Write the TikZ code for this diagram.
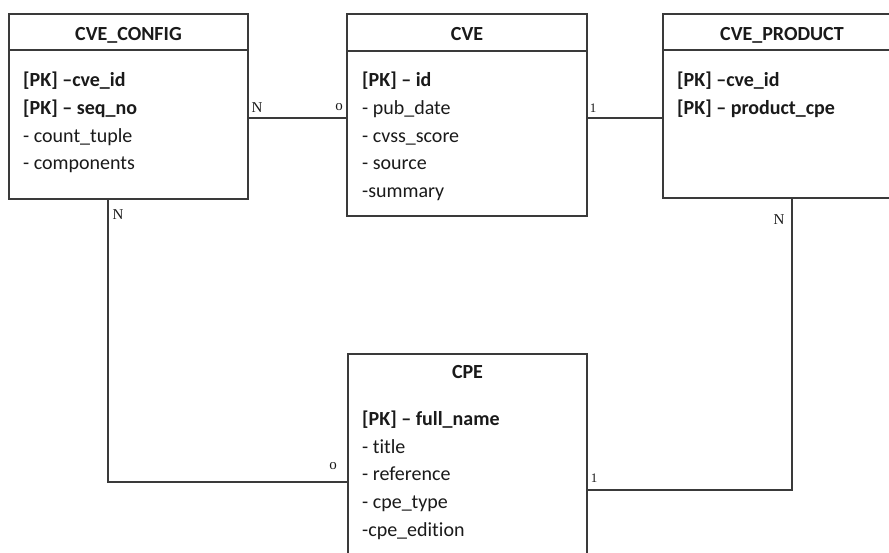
\documentclass[tikz,border=0pt]{standalone}
\usepackage{fontspec}
\setmainfont{Carlito}[Ligatures=NoCommon]
\newfontfamily\lblfont{Liberation Serif}
\definecolor{ln}{HTML}{3A3A3A}
\definecolor{tx}{HTML}{1A1A1A}
\tikzset{
  ebox/.style={draw=ln, line width=1.3pt, rectangle, inner sep=0pt, outer sep=0pt, anchor=north west, fill=white},
  hline/.style={draw=ln, line width=1.3pt},
  conn/.style={draw=ln, line width=1.3pt},
  ttl/.style={anchor=base, inner sep=0pt, text=tx, font=\fontsize{20}{24}\selectfont\bfseries},
  attr/.style={anchor=base west, inner sep=0pt, text=tx, font=\fontsize{20}{24}\selectfont},
  card/.style={inner sep=0pt, text=tx, font=\lblfont\fontsize{15}{16}\selectfont},
  cardsm/.style={inner sep=0pt, text=tx, font=\lblfont\fontsize{13}{14}\selectfont}
}
\begin{document}
\begin{tikzpicture}[x=1pt,y=-1pt]
\useasboundingbox (0,0) rectangle (889,552);
\clip (0,0) rectangle (889,552);
\fill[white] (0,0) rectangle (889,552);

% entity boxes
\node[ebox, minimum width=239pt, minimum height=185pt] (cfg) at (9,14) {};
\node[ebox, minimum width=240pt, minimum height=202pt] (cve) at (347,14) {};
\node[ebox, minimum width=238pt, minimum height=184pt] (prod) at (663,14) {};
\node[ebox, minimum width=239pt, minimum height=216pt] (cpe) at (348,354) {};

% header separators
\draw[hline] (cfg.west |- 0,50) -- (cfg.east |- 0,50);
\draw[hline] (cve.west |- 0,51) -- (cve.east |- 0,51);
\draw[hline] (prod.west |- 0,50) -- (prod.east |- 0,50);

% titles
\node[ttl] (cfgT) at (cfg.north |- 0,40) {CVE\_CONFIG};
\node[ttl] (cveT) at (cve.north |- 0,40) {CVE};
\node[ttl] (prodT) at (prod.north |- 0,40) {CVE\_PRODUCT};
\node[ttl] (cpeT) at (cpe.north |- 0,378) {CPE};

% CVE_CONFIG attributes
\node[attr] (cfgA1) at (23,86) {\textbf{[PK] –cve\_id}};
\node[attr] (cfgA2) at (23,114) {\textbf{[PK] – seq\_no}};
\node[attr] (cfgA3) at (23,142) {- count\_tuple};
\node[attr] (cfgA4) at (23,169) {- components};

% CVE attributes
\node[attr] (cveA1) at (362,86) {\textbf{[PK] – id}};
\node[attr] (cveA2) at (362,114) {- pub\_date};
\node[attr] (cveA3) at (362,142) {- cvss\_score};
\node[attr] (cveA4) at (362,169) {- source};
\node[attr] (cveA5) at (362,197) {-summary};

% CVE_PRODUCT attributes
\node[attr] (prodA1) at (677,86) {\textbf{[PK] –cve\_id}};
\node[attr] (prodA2) at (677,114) {\textbf{[PK] – product\_cpe}};

% CPE attributes
\node[attr] (cpeA1) at (362,425) {\textbf{[PK] – full\_name}};
\node[attr] (cpeA2) at (362,453) {- title};
\node[attr] (cpeA3) at (362,480) {- reference};
\node[attr] (cpeA4) at (362,508) {- cpe\_type};
\node[attr] (cpeA5) at (362,536) {-cpe\_edition};

% connectors
\draw[conn] (cfg.east |- 0,118) -- (cve.west |- 0,118);
\draw[conn] (cve.east |- 0,118) -- (prod.west |- 0,118);
\draw[conn] (cfg.south -| 108,0) |- (cpe.west |- 0,482);
\draw[conn] (prod.south -| 792,0) |- (cpe.east |- 0,490);

% cardinalities
\node[card] (c1) at (257,108) {N};
\node[card] (c2) at (339,107) {o};
\node[cardsm] (c3) at (593,108) {1};
\node[card] (c4) at (118,215) {N};
\node[card] (c5) at (779,220) {N};
\node[card] (c6) at (333,466) {o};
\node[cardsm] (c7) at (594,478) {1};
\end{tikzpicture}
\end{document}
